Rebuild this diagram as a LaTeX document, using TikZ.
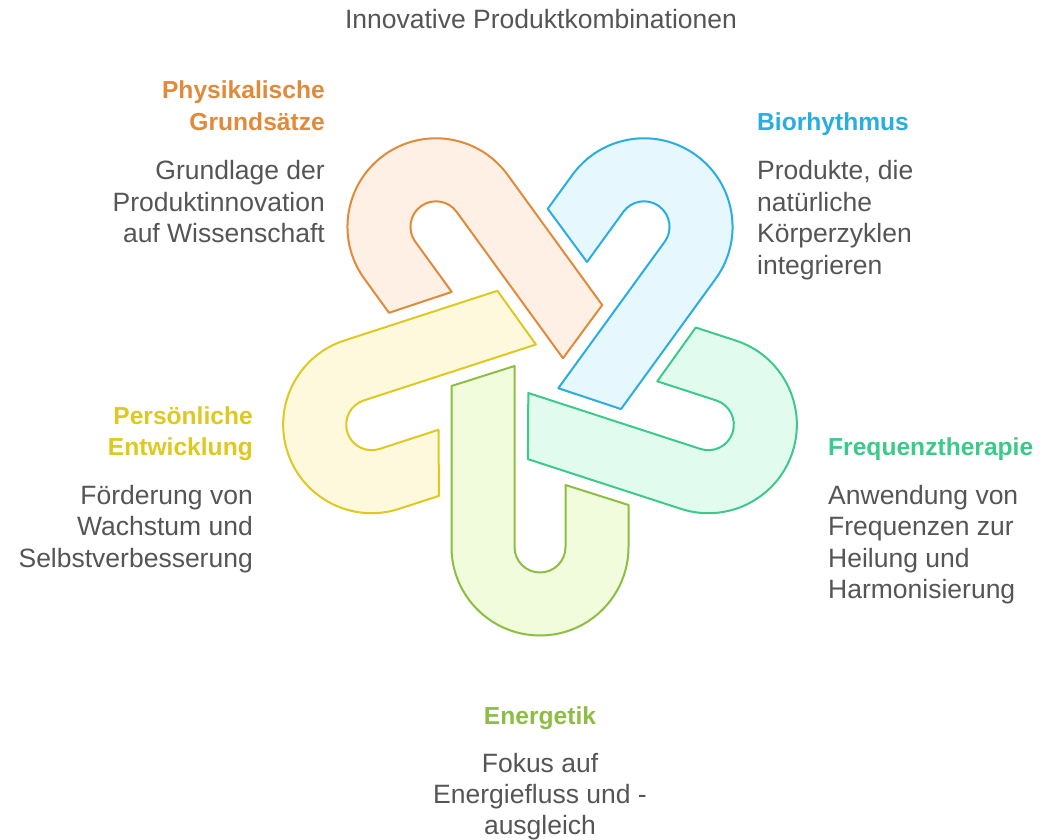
\documentclass[tikz,border=0pt]{standalone}
\usepackage{fontspec}
\setmainfont{Liberation Sans}
\definecolor{txtgray}{HTML}{555555}
\definecolor{orS}{HTML}{E08A3C}\definecolor{orF}{HTML}{FEF0E4}
\definecolor{ylS}{HTML}{DEC920}\definecolor{ylF}{HTML}{FEF9DC}
\definecolor{grS}{HTML}{8DBE42}\definecolor{grF}{HTML}{F1FCDD}
\definecolor{tlS}{HTML}{3DC98A}\definecolor{tlF}{HTML}{E1FCEE}
\definecolor{blS}{HTML}{2AADE0}\definecolor{blF}{HTML}{E6F7FE}
\newcommand\drawhairpin[3]{%
  \begin{scope}[shift={(540,469)}, rotate=-72*#1]
    \draw[band, draw=#2, fill=#3] (-88.5,-16) -- (-88.5,-177)
      arc[start angle=180, end angle=360, radius=88.5] -- (88.5,-135)
      -- (25.5,-115) -- (25.5,-177)
      arc[start angle=0, end angle=-180, radius=25.5] -- (-25.5,4) -- cycle;
  \end{scope}}
\tikzset{
  band/.style={line width=2pt, line join=round},
  body/.style={inner sep=0pt, text=txtgray, font=\fontsize{26.5}{31}\selectfont},
  head/.style={inner sep=0pt, font=\fontsize{24.6}{31}\selectfont\bfseries},
}
\begin{document}
\begin{tikzpicture}[x=1pt,y=1pt]
\fill[white] (0,0) rectangle (1059,839);
\useasboundingbox (0,0) rectangle (1059,839);
% bands
\drawhairpin{0}{grS}{grF}
\drawhairpin{1}{ylS}{ylF}
\drawhairpin{2}{orS}{orF}
\drawhairpin{3}{blS}{blF}
\drawhairpin{4}{tlS}{tlF}
% title
\node[body, anchor=base] (title) at (541,839-29) {Innovative Produktkombinationen};
% orange
\node[head, text=orS, anchor=base east] (oh1) at (325,839-99) {Physikalische};
\node[head, text=orS, anchor=base east] (oh2) at (325,839-131) {Grundsätze};
\node[body, anchor=base east] (ob1) at (325,839-180) {Grundlage der};
\node[body, anchor=base east] (ob2) at (325,839-211.5) {Produktinnovation};
\node[body, anchor=base east] (ob3) at (325,839-243) {auf Wissenschaft};
% blue
\node[head, text=blS, anchor=base west] (bh1) at (757,839-131) {Biorhythmus};
\node[body, anchor=base west] (bb1) at (757,839-180) {Produkte, die};
\node[body, anchor=base west] (bb2) at (757,839-211.5) {natürliche};
\node[body, anchor=base west] (bb3) at (757,839-243) {Körperzyklen};
\node[body, anchor=base west] (bb4) at (757,839-274.5) {integrieren};
% teal
\node[head, text=tlS, anchor=base west] (th1) at (828,839-455) {Frequenztherapie};
\node[body, anchor=base west] (tb1) at (828,839-504) {Anwendung von};
\node[body, anchor=base west] (tb2) at (828,839-535.5) {Frequenzen zur};
\node[body, anchor=base west] (tb3) at (828,839-567) {Heilung und};
\node[body, anchor=base west] (tb4) at (828,839-598.5) {Harmonisierung};
% yellow
\node[head, text=ylS, anchor=base east] (yh1) at (253,839-424) {Persönliche};
\node[head, text=ylS, anchor=base east] (yh2) at (253,839-455) {Entwicklung};
\node[body, anchor=base east] (yb1) at (253,839-504) {Förderung von};
\node[body, anchor=base east] (yb2) at (253,839-535.5) {Wachstum und};
\node[body, anchor=base east] (yb3) at (253,839-567) {Selbstverbesserung};
% green
\node[head, text=grS, anchor=base] (gh1) at (540,839-724) {Energetik};
\node[body, anchor=base] (gb1) at (540,839-772) {Fokus auf};
\node[body, anchor=base] (gb2) at (540,839-803.5) {Energiefluss und -};
\node[body, anchor=base] (gb3) at (540,839-834.5) {ausgleich};
\end{tikzpicture}
\end{document}
